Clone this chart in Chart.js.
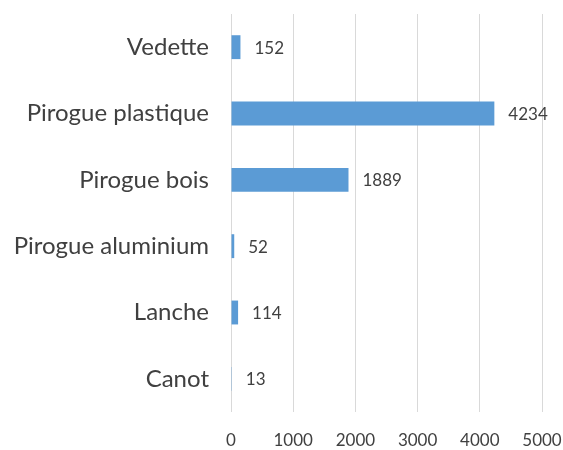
<!DOCTYPE html>
<html>
<head>
<meta charset="utf-8">
<script src="https://cdn.jsdelivr.net/npm/chart.js@4"></script>
<style>
  html, body { margin: 0; padding: 0; background: #fff; }
  #wrap { width: 563px; height: 450px; }
</style>
</head>
<body>
<div id="wrap"><canvas id="grafico" width="563" height="450"></canvas></div>
<script>
const categorias = ["Vedette", "Pirogue plastique", "Pirogue bois", "Pirogue aluminium", "Lanche", "Canot"];
const valores = [152, 4234, 1889, 52, 114, 13];
const ticksX = [0, 1000, 2000, 3000, 4000, 5000];

const fuente = "Lato, 'Open Sans', sans-serif";
const gris = "#404040";

// etiquetas de valor a la derecha de cada barra
const etiquetas = {
  id: "etiquetas",
  afterDatasetsDraw(chart) {
    const ctx = chart.ctx;
    const meta = chart.getDatasetMeta(0);
    ctx.save();
    ctx.font = "17px " + fuente;
    ctx.fillStyle = gris;
    ctx.textAlign = "left";
    ctx.textBaseline = "middle";
    meta.data.forEach((bar, i) => {
      ctx.fillText(String(valores[i]), bar.x + 14, bar.y + 1);
    });
    ctx.restore();
  }
};

const ctx = document.getElementById("grafico").getContext("2d");
const chart = new Chart(ctx, {
  type: "bar",
  data: {
    labels: categorias,
    datasets: [{
      data: valores,
      backgroundColor: "#5B9BD5",
      borderWidth: 0,
      categoryPercentage: 1,
      barPercentage: 0.36
    }]
  },
  options: {
    indexAxis: "y",
    responsive: false,
    animation: false,
    layout: { padding: { top: 14, right: 21, bottom: 0, left: 0 } },
    plugins: {
      legend: { display: false },
      tooltip: { enabled: false }
    },
    scales: {
      x: {
        min: 0,
        max: 5000,
        afterBuildTicks: (axis) => { axis.ticks = ticksX.map(v => ({ value: v })); },
        grid: { color: "#d9d9d9", lineWidth: 1, drawTicks: false },
        border: { display: false },
        ticks: {
          color: gris,
          font: { family: fuente, size: 17 },
          padding: 18,
          maxRotation: 0,
          callback: (v) => String(v)
        },
        afterFit: (axis) => { axis.height = 38; axis.paddingLeft = 0; axis.paddingRight = 0; }
      },
      y: {
        grid: { display: false },
        border: { display: false },
        ticks: { color: gris, font: { family: fuente, size: 24 }, padding: 14 },
        afterFit: (axis) => { axis.width = 231; axis.paddingTop = 0; axis.paddingBottom = 0; }
      }
    }
  },
  plugins: [etiquetas]
});
</script>
</body>
</html>
